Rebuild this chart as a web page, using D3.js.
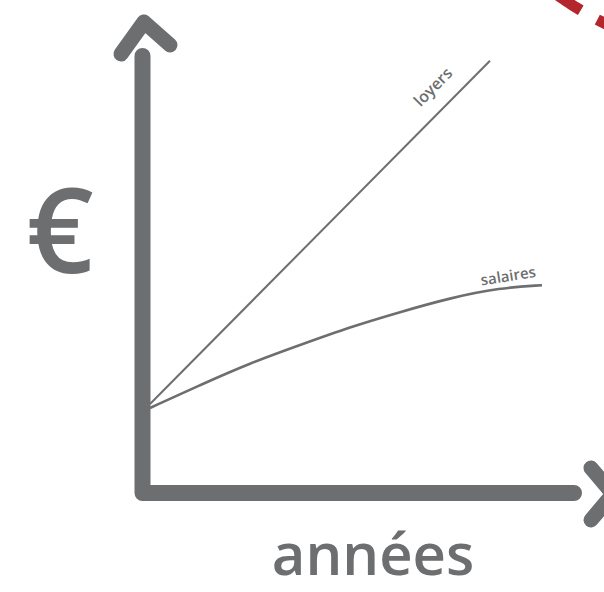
<!DOCTYPE html>
<html>
<head>
<meta charset="utf-8">
<script src="https://cdn.jsdelivr.net/npm/d3@7"></script>
<style>
  body { margin: 0; background: #fff; }
  svg { display: block; }
  text { font-family: "Open Sans", sans-serif; fill: #6d6e70; }
</style>
</head>
<body>
<div id="container"></div>
<script>
const W = 604, H = 592;
const GREY = "#6d6e70";
const RED = "#b3262b";

// abstract values: years on x, euros on y
const loyersYears = [0, 85];
const loyersValues = [20, 98];
const salairesYears = [0, 12.5, 25, 37.5, 50, 62.5, 75, 87.5, 98];
const salairesValues = [19.1, 24.3, 29.3, 33.4, 37.5, 40.9, 44.1, 46.4, 47.0];
const xLabel = "années";
const yLabel = "€";

var x = d3.scaleLinear().domain([0, 100]).range([150, 550]);
var y = d3.scaleLinear().domain([0, 100]).range([492, 52]);

var drawChart = function () {
    var svg = d3.select("#container").append("svg")
        .attr("width", W)
        .attr("height", H);

    // red dashed arc, top right corner
    var arcLine = d3.lineRadial();
    var angles = d3.range(-2.9, -2.3, 0.01);
    svg.append("path")
        .attr("transform", "translate(750,-273)")
        .attr("d", arcLine(angles.map(function (a) { return [a, 330]; })))
        .attr("fill", "none")
        .attr("stroke", RED)
        .attr("stroke-width", 11)
        .attr("stroke-dasharray", "30 19")
        .attr("stroke-dashoffset", 0);

    var line = d3.line()
        .x(function (d) { return x(d[0]); })
        .y(function (d) { return y(d[1]); });

    var loyers = loyersYears.map(function (v, i) { return [v, loyersValues[i]]; });
    var salaires = salairesYears.map(function (v, i) { return [v, salairesValues[i]]; });

    svg.append("path")
        .attr("d", line(loyers))
        .attr("fill", "none")
        .attr("stroke", GREY)
        .attr("stroke-width", 2);

    svg.append("path")
        .attr("d", line.curve(d3.curveBasis)(salaires))
        .attr("fill", "none")
        .attr("stroke", GREY)
        .attr("stroke-width", 2.6);

    // line labels
    var lEnd = loyers[1];
    var angle = Math.atan2(y(lEnd[1]) - y(loyers[0][1]), x(lEnd[0]) - x(loyers[0][0])) * 180 / Math.PI;
    svg.append("text")
        .attr("transform", "translate(" + (x(lEnd[0]) - 49) + "," + (y(lEnd[1]) + 34) + ") rotate(" + angle + ")")
        .attr("text-anchor", "middle")
        .attr("dy", "-0.35em")
        .style("font-size", "16px")
        .style("font-weight", 600)
        .text("loyers");

    var sEnd = salaires[salaires.length - 1];
    svg.append("text")
        .attr("transform", "translate(" + (x(sEnd[0]) - 33) + "," + (y(sEnd[1]) - 4) + ") rotate(-9)")
        .attr("text-anchor", "middle")
        .style("font-size", "15px")
        .style("font-weight", 600)
        .text("salaires");

    // axes: thick hand-drawn strokes
    var axis = d3.path();
    axis.moveTo(142.5, 56);
    axis.lineTo(142.5, 493);
    axis.lineTo(574, 493);
    svg.append("path")
        .attr("d", axis.toString())
        .attr("fill", "none")
        .attr("stroke", GREY)
        .attr("stroke-width", 16)
        .attr("stroke-linecap", "round")
        .attr("stroke-linejoin", "round");

    var heads = [
        [[121, 54], [144, 22], [170, 45]],
        [[591, 468], [613, 494], [591, 520]]
    ];
    svg.selectAll(".head")
        .data(heads)
        .enter().append("path")
        .attr("class", "head")
        .attr("d", d3.line())
        .attr("fill", "none")
        .attr("stroke", GREY)
        .attr("stroke-width", 15)
        .attr("stroke-linecap", "round")
        .attr("stroke-linejoin", "round");

    // axis titles
    svg.append("text")
        .attr("x", 60)
        .attr("y", 273)
        .attr("text-anchor", "middle")
        .style("font-size", "118px")
        .style("font-weight", 600)
        .text(yLabel);

    svg.append("text")
        .attr("x", 373)
        .attr("y", 575)
        .attr("text-anchor", "middle")
        .style("font-size", "58px")
        .style("font-weight", 600)
        .text(xLabel);
};

window.onload = drawChart;
</script>
</body>
</html>
